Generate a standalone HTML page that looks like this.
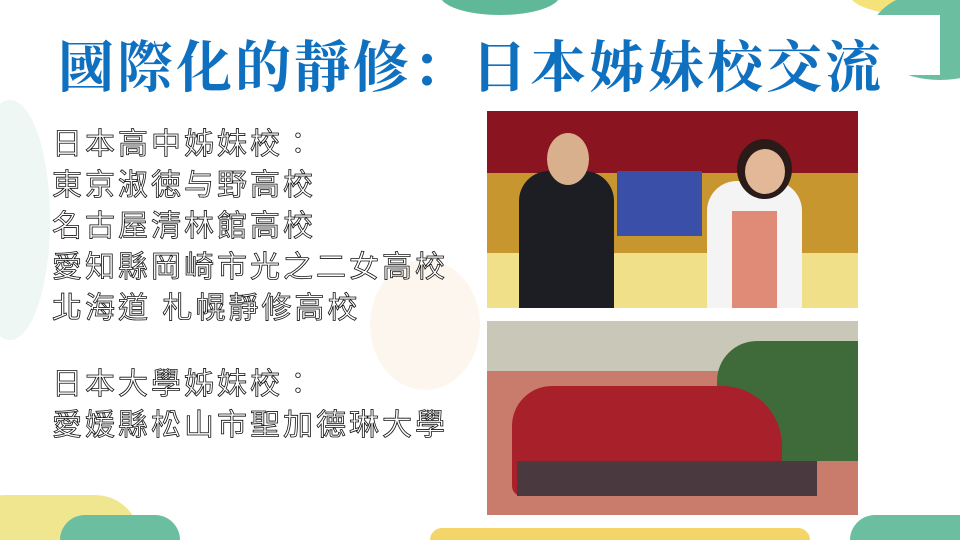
<!DOCTYPE html>
<html><head><meta charset="utf-8"><style>
html,body{margin:0;width:960px;height:540px;overflow:hidden}
#s{position:relative;width:960px;height:540px;overflow:hidden;background:#fff;font-family:"Liberation Sans","Noto Sans CJK TC",sans-serif}
.b{position:absolute;border-radius:50%}
.t{position:absolute;left:52px;font-size:30px;line-height:41px;color:#fff;letter-spacing:3px;-webkit-text-stroke:0.8px #111;white-space:nowrap}
.a{position:absolute}
</style></head><body>
<div id="s">
<div class="b" style="left:440px;top:-25px;width:120px;height:40px;background:#5fb898"></div>
<div class="b" style="left:850px;top:-30px;width:220px;height:50px;background:#f4e27a"></div>
<div class="b" style="left:870px;top:-10px;width:140px;height:90px;background:#6bbfa0"></div>
<div class="a" style="left:850px;top:15px;width:90px;height:60px;background:#fff"></div>
<div class="b" style="left:-30px;top:100px;width:80px;height:240px;background:#eef7f3"></div>
<div class="b" style="left:370px;top:260px;width:110px;height:130px;background:#fdf6ee"></div>
<div class="b" style="left:-40px;top:495px;width:180px;height:45px;border-radius:90px 90px 0 0;background:#f1e690"></div>
<div class="b" style="left:430px;top:528px;width:380px;height:12px;border-radius:190px 190px 0 0;background:#f3d56a"></div>
<div class="b" style="left:60px;top:515px;width:120px;height:25px;border-radius:60px 60px 0 0;background:#6bbfa0"></div>
<div class="b" style="left:850px;top:515px;width:110px;height:25px;border-radius:60px 0 0 0;background:#6bbfa0"></div>
<div class="a" style="left:58px;top:36px;font-size:56px;line-height:66px;font-weight:bold;color:#1070c0;letter-spacing:3px;white-space:nowrap;font-family:'Liberation Serif','Noto Serif CJK SC',serif">國際化的靜修：日本姊妹校交流</div>
<div class="t" style="top:124px">日本高中姊妹校：</div>
<div class="t" style="top:165px">東京淑徳与野高校</div>
<div class="t" style="top:206px">名古屋清林館高校</div>
<div class="t" style="top:247px">愛知縣岡崎市光之二女高校</div>
<div class="t" style="top:288px">北海道 札幌靜修高校</div>
<div class="t" style="top:364px">日本大學姊妹校：</div>
<div class="t" style="top:405px">愛媛縣松山市聖加德琳大學</div>
<div class="a" style="left:487px;top:111px;width:371px;height:197px;overflow:hidden;background:#e8d27a">
 <div class="a" style="left:0;top:0;width:371px;height:62px;background:#8a1520"></div>
 <div class="a" style="left:0;top:62px;width:371px;height:80px;background:#c8962f"></div>
 <div class="a" style="left:0;top:142px;width:371px;height:55px;background:#f0e08a"></div>
 <div class="a" style="left:32px;top:60px;width:95px;height:137px;background:#1d1d24;border-radius:30px 30px 0 0"></div>
 <div class="b" style="left:60px;top:22px;width:42px;height:52px;background:#d9b08e"></div>
 <div class="a" style="left:220px;top:70px;width:95px;height:127px;background:#f4f4f4;border-radius:30px 30px 0 0"></div>
 <div class="a" style="left:245px;top:100px;width:45px;height:97px;background:#e08a78"></div>
 <div class="b" style="left:250px;top:28px;width:55px;height:60px;background:#2a1a18"></div>
 <div class="b" style="left:258px;top:38px;width:40px;height:45px;background:#e3b898"></div>
 <div class="a" style="left:130px;top:60px;width:85px;height:65px;background:#3a4fa8"></div>
</div>
<div class="a" style="left:487px;top:321px;width:371px;height:194px;overflow:hidden;background:#c97b6c">
 <div class="a" style="left:0;top:0;width:371px;height:50px;background:#c9c8b8"></div>
 <div class="a" style="left:230px;top:20px;width:141px;height:120px;background:#3f6b3a;border-radius:40px 0 0 40px"></div>
 <div class="a" style="left:25px;top:65px;width:270px;height:110px;background:#a8202a;border-radius:40px 60px 10px 10px"></div>
 <div class="a" style="left:30px;top:140px;width:300px;height:35px;background:#4a3a40"></div>
</div>
</div>
</body></html>
